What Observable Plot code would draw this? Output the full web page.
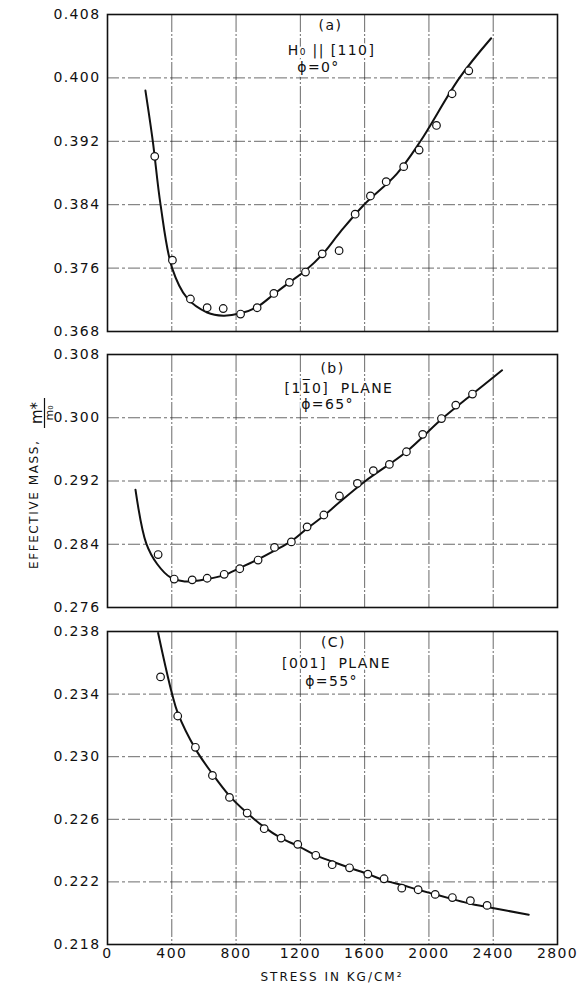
<!DOCTYPE html>
<html><head><meta charset="utf-8">
<script src="https://cdn.jsdelivr.net/npm/d3@7"></script>
<script src="https://cdn.jsdelivr.net/npm/@observablehq/plot@0.6"></script>
<style>
body{margin:0;background:#fff;}
#wrap{position:relative;width:581px;height:985px;background:#fff;overflow:hidden;}
#wrap > svg{position:absolute;left:0;}
</style></head><body><div id="wrap"></div>
<script>
// ---- data ----
const xTicks = [0, 400, 800, 1200, 1600, 2000, 2400, 2800];

// panel (a)
const yTicksA = [0.368, 0.376, 0.384, 0.392, 0.400, 0.408];
const stressA = [294, 404, 516, 620, 720, 828, 931, 1035, 1132, 1232, 1336, 1441, 1541, 1636, 1734, 1843, 1939, 2047, 2144, 2248];
const massA   = [0.3901, 0.3770, 0.3721, 0.3710, 0.3709, 0.3702, 0.3710, 0.3728, 0.3742, 0.3755, 0.3778, 0.3782, 0.3828, 0.3851, 0.3869, 0.3888, 0.3909, 0.3940, 0.3980, 0.4009];
const curveStressA = [236, 282, 330, 402, 496, 620, 720, 828, 931, 1035, 1132, 1232, 1336, 1450, 1596, 1800, 1947, 2190, 2387];
const curveMassA   = [0.3984, 0.3920, 0.3840, 0.3760, 0.3722, 0.3704, 0.3700, 0.3703, 0.3711, 0.3727, 0.3742, 0.3757, 0.3777, 0.3806, 0.3840, 0.3879, 0.3920, 0.4000, 0.4050];
const labelsA = ["(a)", "H\u2080 || [110]", "\u03d5=0\u00b0"];
const labelXA = [1387, 1394, 1313];
const labelYA = [0.4066, 0.40345, 0.4013];

// panel (b)
const yTicksB = [0.276, 0.284, 0.292, 0.300, 0.308];
const stressB = [315, 415, 527, 620, 726, 823, 937, 1039, 1144, 1242, 1346, 1443, 1555, 1654, 1754, 1860, 1961, 2078, 2167, 2271];
const massB   = [0.2827, 0.2796, 0.2795, 0.2797, 0.2802, 0.2809, 0.2820, 0.2836, 0.2843, 0.2862, 0.2877, 0.2901, 0.2917, 0.2933, 0.2941, 0.2957, 0.2979, 0.2999, 0.3016, 0.3030];
const curveStressB = [174, 241, 309, 392, 480, 620, 726, 823, 937, 1039, 1144, 1242, 1346, 1443, 1605, 1860, 2078, 2271, 2455];
const curveMassB   = [0.2909, 0.2841, 0.2815, 0.2798, 0.2793, 0.2796, 0.2801, 0.2810, 0.2821, 0.2832, 0.2844, 0.2860, 0.2876, 0.2893, 0.2920, 0.2957, 0.2998, 0.3030, 0.3060];
const labelsB = ["(b)", "[11\u03050]  PLANE", "\u03d5=65\u00b0"];
const labelXB = [1400, 1440, 1369];
const labelYB = [0.30623, 0.3037, 0.30168];

// panel (c)
const yTicksC = [0.218, 0.222, 0.226, 0.230, 0.234, 0.238];
const stressC = [330, 437, 547, 653, 759, 869, 975, 1080, 1184, 1296, 1398, 1506, 1620, 1721, 1831, 1933, 2039, 2146, 2258, 2362];
const massC   = [0.2351, 0.2326, 0.2306, 0.2288, 0.2274, 0.2264, 0.2254, 0.2248, 0.2244, 0.2237, 0.2231, 0.2229, 0.2225, 0.2222, 0.2216, 0.2215, 0.2212, 0.2210, 0.2208, 0.2205];
const curveStressC = [315, 360, 402, 437, 547, 653, 759, 869, 975, 1080, 1184, 1296, 1398, 1506, 1620, 1721, 1831, 1933, 2039, 2146, 2258, 2362, 2621];
const curveMassC   = [0.2379, 0.2358, 0.2340, 0.2328, 0.2305, 0.2289, 0.2275, 0.2264, 0.2255, 0.2248, 0.2243, 0.2237, 0.2233, 0.2229, 0.2225, 0.2221, 0.2218, 0.2215, 0.2212, 0.2209, 0.2206, 0.2204, 0.2199];
const labelsC = ["(C)", "[001]  PLANE", "\u03d5=55\u00b0"];
const labelXC = [1406, 1425, 1394];
const labelYC = [0.2373, 0.23596, 0.23481];

const xTitle = "STRESS IN KG/CM\u00b2";
const yTitle = "EFFECTIVE MASS,";

// ---- drawing ----
const wrap = document.getElementById("wrap");
const fmt = d3.format(".3f");
const zip = (xs, ys) => xs.map((x, i) => ({x, y: ys[i]}));

function panel({top, height, marginBottom, yTicks, stress, mass, cStress, cMass, labels, lx, ly, showX}) {
  const pts = zip(stress, mass);
  const curve = zip(cStress, cMass);
  const lab = labels.map((t, i) => ({t, x: lx[i], y: ly[i]}));
  const svg = Plot.plot({
    width: 581,
    height,
    marginLeft: 107,
    marginRight: 24,
    marginTop: 14,
    marginBottom,
    style: "font-family:'DejaVu Sans',sans-serif;font-size:14px;letter-spacing:1.4px;background:transparent;overflow:visible;color:#111;",
    x: {domain: [0, 2800], ticks: xTicks, tickFormat: d3.format("d"), tickSize: 0, tickPadding: 4, label: null, axis: showX ? "bottom" : null},
    y: {domain: [yTicks[0], yTicks[yTicks.length - 1]], ticks: yTicks, tickFormat: fmt, tickSize: 0, tickPadding: 7, label: null},
    marks: [
      Plot.ruleY(yTicks.slice(1, -1), {stroke: "#222", strokeWidth: 0.8, strokeDasharray: "12,3,3,3", strokeOpacity: 0.85}),
      Plot.ruleX(xTicks.slice(1, -1), {stroke: "#222", strokeWidth: 0.8, strokeDasharray: "18,2,2,2", strokeOpacity: 0.85}),
      Plot.frame({stroke: "#111", strokeWidth: 1.6}),
      Plot.line(curve, {x: "x", y: "y", curve: "catmull-rom", stroke: "#111", strokeWidth: 2}),
      Plot.dot(pts, {x: "x", y: "y", r: 3.8, stroke: "#111", fill: "white", strokeWidth: 1.2}),
      Plot.text(lab, {x: "x", y: "y", text: "t", fontSize: 14, fill: "#111", stroke: "white", strokeWidth: 4, textAnchor: "middle"})
    ]
  });
  svg.style.top = top + "px";
  wrap.appendChild(svg);
}

panel({top: 0, height: 341, marginBottom: 10, yTicks: yTicksA, stress: stressA, mass: massA,
  cStress: curveStressA, cMass: curveMassA, labels: labelsA, lx: labelXA, ly: labelYA, showX: false});
panel({top: 340, height: 277, marginBottom: 10, yTicks: yTicksB, stress: stressB, mass: massB,
  cStress: curveStressB, cMass: curveMassB, labels: labelsB, lx: labelXB, ly: labelYB, showX: false});
panel({top: 617, height: 368, marginBottom: 41, yTicks: yTicksC, stress: stressC, mass: massC,
  cStress: curveStressC, cMass: curveMassC, labels: labelsC, lx: labelXC, ly: labelYC, showX: true});

// axis titles overlay
const ov = d3.select(wrap).append("svg")
  .attr("width", 581).attr("height", 985)
  .style("top", "0px").style("pointer-events", "none")
  .style("font-family", "'DejaVu Sans',sans-serif").style("fill", "#111");

ov.append("text")
  .attr("x", 332).attr("y", 981)
  .attr("text-anchor", "middle")
  .style("font-size", "12px").style("letter-spacing", "2px")
  .text(xTitle);

const g = ov.append("g").attr("transform", "translate(38,483) rotate(-90)");
g.append("text")
  .attr("x", -86).attr("y", 0)
  .style("font-size", "12px").style("letter-spacing", "1.6px")
  .text(yTitle);
g.append("text").attr("x", 70).attr("y", 4).attr("text-anchor", "middle")
  .style("font-size", "15px").text("m*");
g.append("line").attr("x1", 55).attr("x2", 85).attr("y1", 6.5).attr("y2", 6.5)
  .attr("stroke", "#111").attr("stroke-width", 1.2);
g.append("text").attr("x", 70).attr("y", 15).attr("text-anchor", "middle")
  .style("font-size", "11px").text("m\u2080");
</script></body></html>
